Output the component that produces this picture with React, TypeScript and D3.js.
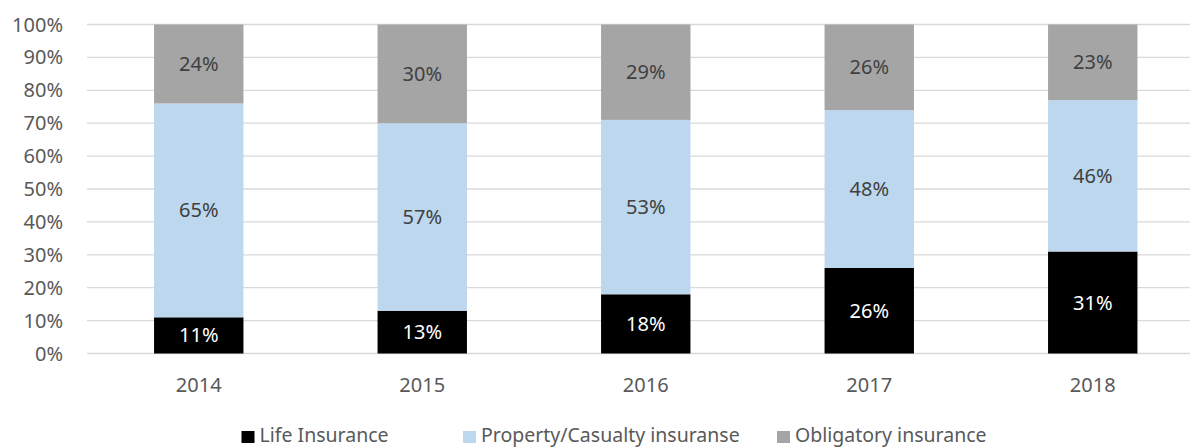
import React from "react";
import * as d3 from "d3";

const years = ["2014", "2015", "2016", "2017", "2018"];
const lifeInsurance = [11, 13, 18, 26, 31];
const propertyCasualty = [65, 57, 53, 48, 46];
const obligatory = [24, 30, 29, 26, 23];
const yTicks = [0, 10, 20, 30, 40, 50, 60, 70, 80, 90, 100];
const seriesNames = ["Life Insurance", "Property/Casualty insuranse", "Obligatory insurance"];
const seriesColors = ["#000000", "#BDD7EE", "#A5A5A5"];
const labelColors = ["#FFFFFF", "#404040", "#404040"];

const W = 1190;
const H = 448;
const FONT = "'Noto Sans', 'Open Sans', sans-serif";
const FS = 20;

export default function App() {
  const x = d3.scaleBand<string>().domain(years).range([87, 1204.5]).paddingInner(0.6).paddingOuter(0.3);
  const y = d3.scaleLinear().domain([0, 100]).range([353.5, 24.5]);

  const rows = years.map((yr, i) => ({
    year: yr,
    s0: lifeInsurance[i],
    s1: propertyCasualty[i],
    s2: obligatory[i],
  }));
  const stack = d3.stack<any>().keys(["s0", "s1", "s2"]);
  const series = stack(rows);

  const legendX = [241.5, 463, 777];

  return (
    <svg width={W} height={H} style={{ position: "absolute", left: 0, top: 0 }} fontFamily={FONT}>
      <rect width={W} height={H} fill="#fff" />
      {yTicks.map((t) => (
        <g key={t}>
          <line x1={87} x2={W} y1={y(t)} y2={y(t)} stroke="#D9D9D9" strokeWidth={1.3} />
          <text x={63} y={y(t)} dy="0.35em" textAnchor="end" fontSize={FS} fill="#595959">
            {t}%
          </text>
        </g>
      ))}
      {series.map((s, si) =>
        s.map((d, i) => {
          const x0 = x(years[i])!;
          const y0 = y(d[1]);
          const h = y(d[0]) - y(d[1]);
          const v = d[1] - d[0];
          return (
            <g key={`${si}-${i}`}>
              <rect x={x0} y={y0} width={x.bandwidth()} height={h} fill={seriesColors[si]} />
              <text
                x={x0 + x.bandwidth() / 2}
                y={y0 + h / 2}
                dy="0.35em"
                textAnchor="middle"
                fontSize={FS}
                fill={labelColors[si]}
              >
                {v}%
              </text>
            </g>
          );
        })
      )}
      {years.map((yr) => (
        <text
          key={yr}
          x={x(yr)! + x.bandwidth() / 2}
          y={385}
          dy="0.35em"
          textAnchor="middle"
          fontSize={FS}
          fill="#595959"
        >
          {yr}
        </text>
      ))}
      {seriesNames.map((n, i) => (
        <g key={n}>
          <rect x={legendX[i]} y={431} width={13} height={12} fill={seriesColors[i]} />
          <text x={legendX[i] + 18} y={435.5} dy="0.35em" fontSize={19.5} fill="#595959">
            {n}
          </text>
        </g>
      ))}
    </svg>
  );
}
